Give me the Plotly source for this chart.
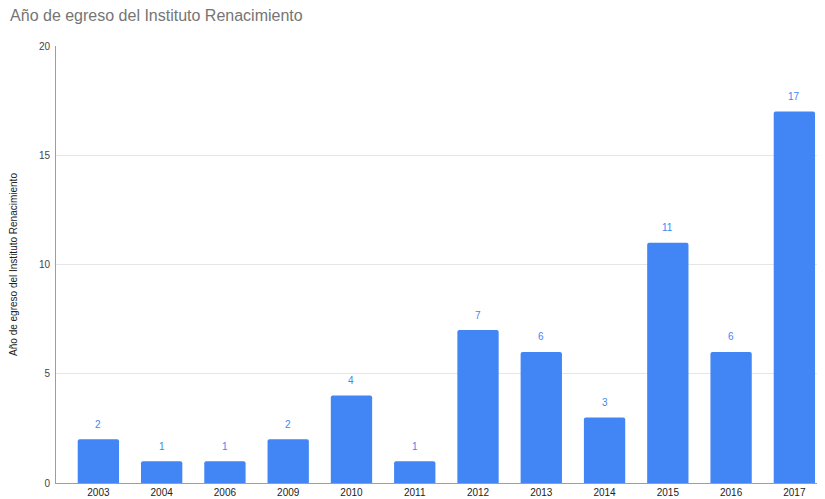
import plotly.graph_objects as go

years = ["2003", "2004", "2006", "2009", "2010", "2011", "2012", "2013", "2014", "2015", "2016", "2017"]
counts = [2, 1, 1, 2, 4, 1, 7, 6, 3, 11, 6, 17]
y_ticks = [0, 5, 10, 15, 20]
title_text = "Año de egreso del Instituto Renacimiento"
blue = "#4285F4"
FONT = "Arial, 'Liberation Sans', sans-serif"

fig = go.Figure()
fig.add_trace(go.Bar(
    x=years, y=counts,
    marker=dict(color=blue, line=dict(width=0), cornerradius=2),
    hoverinfo="x+y",
))

for i, c in enumerate(counts):
    fig.add_annotation(x=i, y=c, xref="x", yref="y", text=str(c), showarrow=False,
                       yanchor="middle", yshift=15,
                       font=dict(family=FONT, size=10, color=blue))

fig.update_layout(
    width=825, height=499,
    margin=dict(l=48, r=7, t=38, b=24, autoexpand=False),
    paper_bgcolor="white", plot_bgcolor="white",
    bargap=0.347,
    showlegend=False,
    font=dict(family=FONT),
    title=dict(text=title_text, x=0.0025, xanchor="left", y=0.986, yanchor="middle",
               font=dict(family=FONT, size=16, color="#757575")),
)
fig.update_xaxes(
    type="category", range=[-0.67, len(years) - 0.5], automargin=False,
    showgrid=False, showline=True, linecolor="#9e9e9e", linewidth=1,
    ticks="", tickfont=dict(size=10, color="#222222"),
)
fig.update_yaxes(
    range=[0, 20], tickvals=y_ticks, automargin=False,
    showgrid=True, gridcolor="#e6e6e6", gridwidth=1,
    showline=True, linecolor="#9e9e9e", linewidth=1,
    zeroline=False, ticks="", ticklen=0, ticklabelstandoff=3,
    tickfont=dict(size=10, color="#444444"),
    title=dict(text=title_text, font=dict(size=10, color="#222222"), standoff=19),
)

fig.write_html("out.html")
